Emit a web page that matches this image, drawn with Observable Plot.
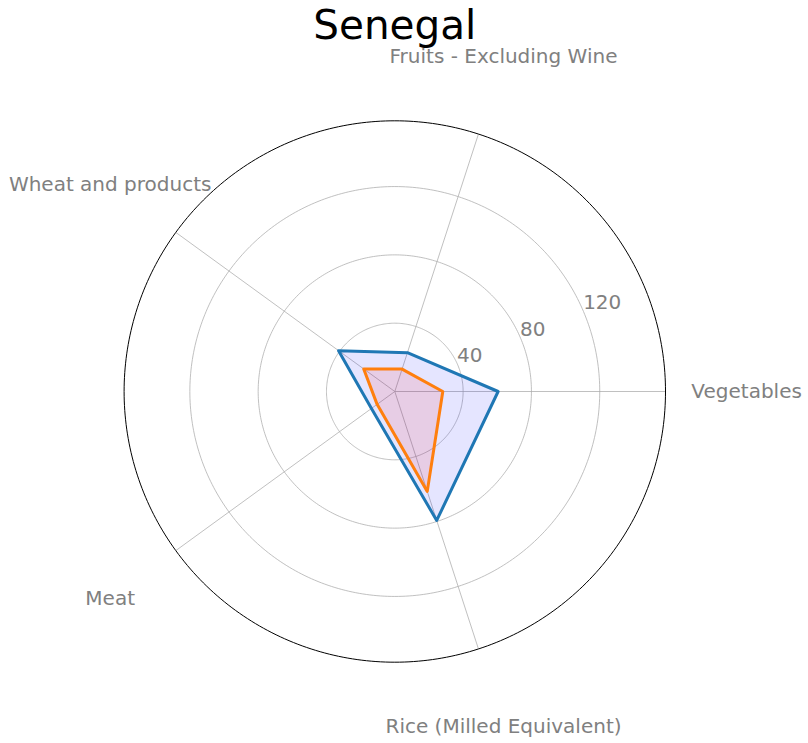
<!DOCTYPE html>
<html>
<head>
<meta charset="utf-8">
<script src="https://cdn.jsdelivr.net/npm/d3@7"></script>
<script src="https://cdn.jsdelivr.net/npm/@observablehq/plot@0.6"></script>
<style>
  html, body { margin: 0; padding: 0; background: #fff; }
  svg { overflow: visible; }
</style>
</head>
<body>
<div id="chart"></div>
<script>
const title = "Senegal";
const categories = ["Vegetables", "Fruits - Excluding Wine", "Wheat and products", "Meat", "Rice (Milled Equivalent)"];
const seriesA = [60.5, 23.9, 40.7, 16.9, 79.4];   // blue
const seriesB = [28.1, 13.8, 22.5, 12.8, 61.5];   // orange
const ticks = [40, 80, 120];
const rMax = 158.5;

const W = 808, H = 743;
const cx = 394.3, cy = 391, Rpx = 270.7;
const labelR = 206;

const ang = i => (i * 2 * Math.PI) / categories.length;
const toPts = vals => vals.map((v, i) => ({cat: categories[i], x: v * Math.cos(ang(i)), y: v * Math.sin(ang(i))}));

const circle = r => d3.range(0, 361, 1).map(a => ({x: r * Math.cos(a * Math.PI / 180), y: r * Math.sin(a * Math.PI / 180)}));

const gridMarks = ticks.map(t => Plot.line(circle(t), {x: "x", y: "y", stroke: "#b0b0b0", strokeWidth: 0.8}));

const rlabAng = 22.5 * Math.PI / 180;

const chart = Plot.plot({
  width: W,
  height: H,
  marginLeft: cx - Rpx,
  marginRight: W - cx - Rpx,
  marginTop: cy - Rpx,
  marginBottom: H - cy - Rpx,
  x: {domain: [-rMax, rMax]},
  y: {domain: [-rMax, rMax]},
  axis: null,
  style: {fontFamily: "DejaVu Sans", background: "white"},
  marks: [
    ...gridMarks,
    Plot.link(categories, {
      x1: 0, y1: 0,
      x2: (d, i) => rMax * Math.cos(ang(i)),
      y2: (d, i) => rMax * Math.sin(ang(i)),
      stroke: "#b0b0b0", strokeWidth: 0.8
    }),
    Plot.line(circle(rMax), {x: "x", y: "y", stroke: "black", strokeWidth: 1}),
    Plot.line(toPts(seriesA), {x: "x", y: "y", curve: "linear-closed", stroke: "#1f77b4", strokeWidth: 3, fill: "blue", fillOpacity: 0.1}),
    Plot.line(toPts(seriesB), {x: "x", y: "y", curve: "linear-closed", stroke: "#ff7f0e", strokeWidth: 3, fill: "red", fillOpacity: 0.1}),
    Plot.text(ticks, {
      x: t => t * Math.cos(rlabAng),
      y: t => t * Math.sin(rlabAng),
      text: t => String(t),
      textAnchor: "start", lineAnchor: "middle", dy: -10, dx: -1,
      fill: "#808080", fontSize: 20
    }),
    Plot.text(categories, {
      x: (d, i) => labelR * Math.cos(ang(i)),
      y: (d, i) => labelR * Math.sin(ang(i)),
      text: d => d,
      textAnchor: "middle", lineAnchor: "middle",
      fill: "#808080", fontSize: 20
    }),
    Plot.text([title], {
      frameAnchor: "top", text: d => d, lineAnchor: "middle", dy: -95,
      fill: "black", fontSize: 40.5
    })
  ]
});
document.getElementById("chart").appendChild(chart);
</script>
</body>
</html>
